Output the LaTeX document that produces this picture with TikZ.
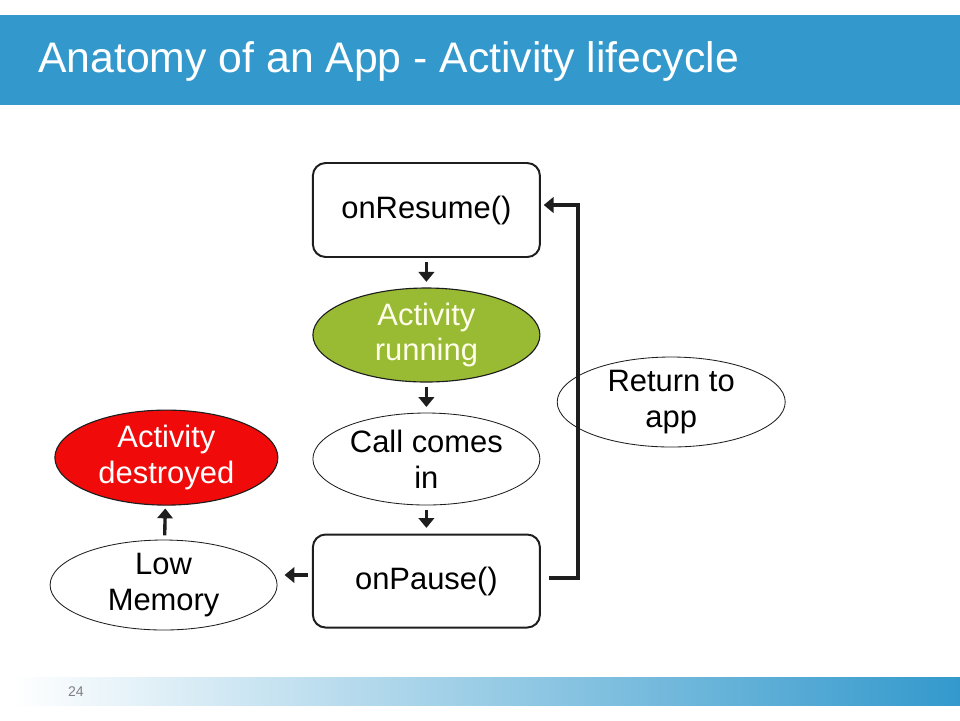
\documentclass[tikz,border=0pt]{standalone}
\usepackage{fontspec}
\setmainfont{Liberation Sans}
\definecolor{titleblue}{RGB}{51, 153, 204}
\definecolor{rungreen}{RGB}{153, 187, 51}
\definecolor{killred}{RGB}{240, 10, 10}
\definecolor{edgegray}{RGB}{30, 30, 30}
\usepackage{tikz}
\usetikzlibrary{shapes.geometric, arrows.meta, positioning, calc}

\begin{document}
\begin{tikzpicture}[
    bodytext/.style={font=\fontsize{22}{25.4}\selectfont, align=center},
    callbox/.style={bodytext, draw=edgegray, line width=1.4pt, fill=white, rounded corners=9pt, minimum width=5.675cm, minimum height=2.35cm, inner sep=0pt},
    stateoval/.style={bodytext, ellipse, draw=edgegray, line width=0.6pt, fill=white, minimum width=5.675cm, minimum height=2.3cm, inner sep=0pt},
    flow/.style={-{Triangle[width=11pt, length=7pt]}, line width=2.4pt, edgegray, shorten <=3pt, shorten >=4pt}
  ]
  \useasboundingbox (0,0) rectangle (24,-18);

  % Title bar
  \fill[titleblue] (0,-0.375) rectangle (24,-2.625);
  \node[anchor=base west, inner sep=0pt, text=white, font=\fontsize{30.4}{36}\selectfont] (title) at (0.95,-1.8) {Anatomy of an App - Activity lifecycle};

  % Footer band
  \shade[left color=white, right color=titleblue] (0.3,-16.925) rectangle (24,-17.625);
  \node[text=gray, font=\fontsize{10}{12}\selectfont, inner sep=0pt] (pagenum) at (1.9,-17.3) {24};

  % Lifecycle column
  \node[callbox] (resume) at (10.66,-5.25) {\raisebox{3pt}{onResume()}};
  \node[stateoval, fill=rungreen, text=white!92!yellow, minimum height=2.35cm, line width=0.8pt] (running) at (10.66,-8.375) {Activity\\running};
  \node[stateoval] (call) at (10.66,-11.475) {Call comes\\in};
  \node[callbox, minimum height=2.325cm] (pause) at (10.66,-14.525) {\raisebox{3pt}{onPause()}};

  % Side states
  \node[stateoval, minimum height=2.25cm] (lowmem) at (4.09,-14.625) {Low\\Memory};
  \node[stateoval, fill=killred, text=white, minimum width=5.575cm, minimum height=2.375cm, line width=0.8pt] (destr) at (4.16,-11.44) {Activity\\destroyed};
  \node[stateoval, minimum width=5.7cm, minimum height=2.25cm] (ret) at (16.78,-10.05) {Return to\\app};

  % Arrows
  \draw[flow] (resume) -- (running);
  \draw[flow] (running) -- (call);
  \draw[flow] (call) -- (pause);
  \draw[flow, shorten >=5pt] (pause.west |- 0,-14.375) -- (lowmem.east |- 0,-14.375);
  \draw[flow, shorten >=2pt] (lowmem) -- (destr);
  \coordinate (loopbot) at (14.45,-14.45);
  \coordinate (looptop) at (14.45,-5.125);
  \draw[flow, shorten <=6pt, shorten >=2pt] (pause.east |- loopbot) -- (loopbot) -- (looptop) -- (resume.east |- looptop);
\end{tikzpicture}
\end{document}
